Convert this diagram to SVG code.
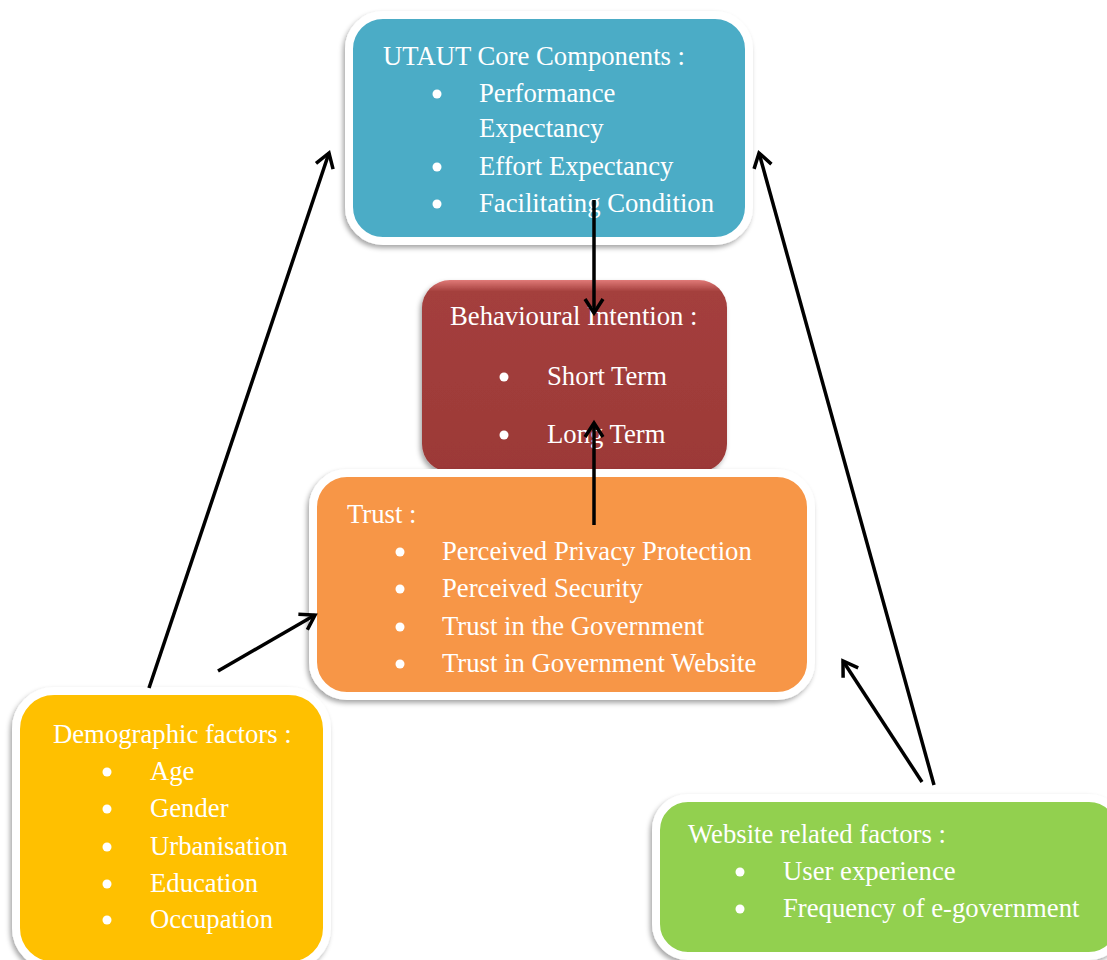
<svg xmlns="http://www.w3.org/2000/svg" width="1107" height="960" viewBox="0 0 1107 960">
<defs>
<filter id="sh" x="-10%" y="-10%" width="120%" height="125%">
<feGaussianBlur in="SourceAlpha" stdDeviation="2.5"/>
<feOffset dx="-2" dy="3" result="b"/>
<feFlood flood-color="#000" flood-opacity="0.35"/>
<feComposite in2="b" operator="in"/>
<feMerge><feMergeNode/><feMergeNode in="SourceGraphic"/></feMerge>
</filter>
<linearGradient id="bev" x1="0" y1="0" x2="0" y2="1">
<stop offset="0" stop-color="#E07A78"/>
<stop offset="0.06" stop-color="#A43F3D"/>
<stop offset="1" stop-color="#9C3937"/>
</linearGradient>
<marker id="ah" markerUnits="userSpaceOnUse" markerWidth="30" markerHeight="30" refX="18" refY="12" orient="auto" viewBox="0 0 30 24">
<path d="M4,3 L18,12 L4,21" fill="none" stroke="#000" stroke-width="3.5" stroke-linejoin="miter"/>
</marker>
<style>
.box{stroke:#fff;stroke-width:8;filter:url(#sh)}
.t{font-family:"Liberation Serif","Times New Roman",serif;font-size:26.7px;fill:#fff}
.b{fill:#fff}
.c{stroke:#000;stroke-width:3.5;fill:none;marker-end:url(#ah)}
</style>
</defs>

<g id="behavioural">
<rect x="422" y="280" width="305" height="192" rx="28" fill="url(#bev)" filter="url(#sh)"/>
<text class="t" x="450" y="325">Behavioural Intention :</text>
<circle class="b" cx="504" cy="377" r="4.5"/>
<text class="t" x="547" y="385">Short Term</text>
<circle class="b" cx="504" cy="435" r="4.5"/>
<text class="t" x="547" y="443">Long Term</text>
</g>

<g id="utaut">
<rect class="box" x="349" y="15" width="400" height="226" rx="34" fill="#4BACC6"/>
<text class="t" x="383" y="65">UTAUT Core Components :</text>
<circle class="b" cx="437" cy="94" r="4.5"/>
<text class="t" x="479" y="102">Performance</text>
<text class="t" x="479" y="137">Expectancy</text>
<circle class="b" cx="437" cy="167" r="4.5"/>
<text class="t" x="479" y="175">Effort Expectancy</text>
<circle class="b" cx="437" cy="204" r="4.5"/>
<text class="t" x="479" y="212">Facilitating Condition</text>
</g>

<g id="trust">
<rect class="box" x="313" y="473" width="498" height="223" rx="34" fill="#F79646"/>
<text class="t" x="347" y="523">Trust :</text>
<circle class="b" cx="400" cy="552" r="4.5"/>
<text class="t" x="442" y="560">Perceived Privacy Protection</text>
<circle class="b" cx="400" cy="589" r="4.5"/>
<text class="t" x="442" y="597">Perceived Security</text>
<circle class="b" cx="400" cy="627" r="4.5"/>
<text class="t" x="442" y="635">Trust in the Government</text>
<circle class="b" cx="400" cy="664" r="4.5"/>
<text class="t" x="442" y="672">Trust in Government Website</text>
</g>

<g id="demographic">
<rect class="box" x="16" y="691" width="311" height="275" rx="38" fill="#FFC000"/>
<text class="t" x="53" y="743">Demographic factors :</text>
<circle class="b" cx="107" cy="772" r="4.5"/>
<text class="t" x="150" y="780">Age</text>
<circle class="b" cx="107" cy="809" r="4.5"/>
<text class="t" x="150" y="817">Gender</text>
<circle class="b" cx="107" cy="847" r="4.5"/>
<text class="t" x="150" y="855">Urbanisation</text>
<circle class="b" cx="107" cy="884" r="4.5"/>
<text class="t" x="150" y="892">Education</text>
<circle class="b" cx="107" cy="920" r="4.5"/>
<text class="t" x="150" y="928">Occupation</text>
</g>

<g id="website">
<rect class="box" x="656" y="798" width="465" height="158" rx="32" fill="#92D050"/>
<text class="t" x="688" y="843">Website related factors :</text>
<circle class="b" cx="740" cy="872" r="4.5"/>
<text class="t" x="783" y="880">User experience</text>
<circle class="b" cx="740" cy="909" r="4.5"/>
<text class="t" x="783" y="917">Frequency of e-government</text>
</g>

<g id="connectors">
<line class="c" x1="149" y1="688" x2="329" y2="153"/>
<line class="c" x1="218" y1="671" x2="315" y2="615"/>
<line class="c" x1="594" y1="200" x2="594" y2="313"/>
<line class="c" x1="594" y1="525" x2="594" y2="423"/>
<line class="c" x1="934" y1="785" x2="759" y2="153"/>
<line class="c" x1="922" y1="782" x2="843" y2="661"/>
</g>
</svg>
